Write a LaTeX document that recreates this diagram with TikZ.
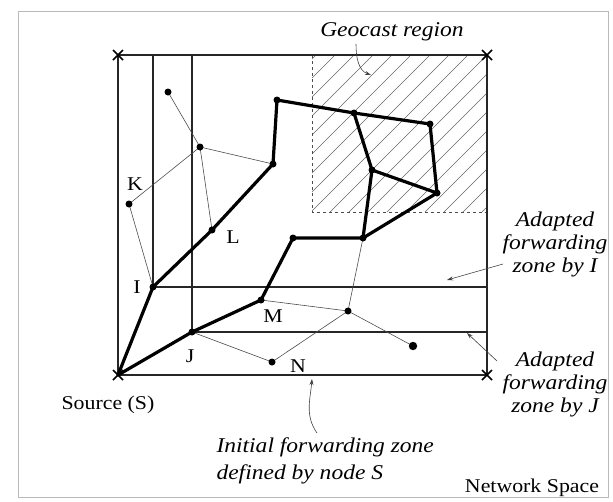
\documentclass[tikz,border=0pt]{standalone}
\usepackage{fontspec}
\setmainfont{Liberation Serif}[FakeStretch=1.12]
\usetikzlibrary{arrows.meta,calc}

\begin{document}
\begin{tikzpicture}[x=1pt, y=-1pt,
  zone/.style={line width=1.4pt, black!85},
  link/.style={line width=0.6pt, black!70},
  route/.style={line width=3.2pt, line join=round, line cap=round},
  hatch/.style={line width=0.5pt, black!60},
  geoedge/.style={line width=0.6pt, black!70, dash pattern=on 3pt off 3pt},
  corner/.style={line width=1.6pt},
  nlbl/.style={font=\fontsize{19.5}{21}\selectfont},
  note/.style={font=\fontsize{21}{23}\selectfont\itshape, align=center},
  pointer/.style={-{Stealth[length=6pt,width=4pt]}, line width=0.6pt, black!75},
]
\useasboundingbox (0,0) rectangle (613,501);

% Network space frame.
\draw[gray!55, line width=1pt] (18,11) rectangle (608,497);

% Corners of the initial zone and the nodes.
\coordinate (S) at (118,375);
\coordinate (TL) at (118,55);
\coordinate (TR) at (487,55);
\coordinate (BR) at (487,375);
\coordinate (I) at (153,287);
\coordinate (J) at (192,332);
\coordinate (K) at (129,204);
\coordinate (L) at (212,230);
\coordinate (M) at (261,300);
\coordinate (N) at (272,362);
\coordinate (n1) at (168,92);
\coordinate (n2) at (200,147);
\coordinate (n3) at (273,164);
\coordinate (n4) at (277,100);
\coordinate (n5) at (354,113);
\coordinate (n6) at (430,124);
\coordinate (n7) at (372,170);
\coordinate (n8) at (437,193);
\coordinate (n9) at (363,238);
\coordinate (n10) at (293,238);
\coordinate (n11) at (348,311);
\coordinate (n12) at (413,346);

% Geocast region.
\coordinate (geoSW) at (312,212);
\begin{scope}
  \clip (geoSW) rectangle (TR);
  \foreach \x in {140,159,...,500}
    \draw[hatch] (\x,212) -- ++(160,-160);
\end{scope}
\draw[geoedge] (TR -| geoSW) -- (geoSW) -- (geoSW -| TR);

% Forwarding zones.
\draw[zone] (S) rectangle (TR);
\draw[zone] (I) rectangle (TR);
\draw[zone] (J) rectangle (TR);
\foreach \c in {S,TL,TR,BR}
  \draw[corner] ($(\c)+(-5,-5)$) -- ($(\c)+(5,5)$)
                ($(\c)+(-5,5)$) -- ($(\c)+(5,-5)$);

% Thin links.
\draw[link] (n1) -- (n2);
\draw[link] (n2) -- (n3);
\draw[link] (n2) -- (L);
\draw[link] (n2) -- (K);
\draw[link] (K) -- (I);
\draw[link] (M) -- (n11);
\draw[link] (n11) -- (n9);
\draw[link] (n11) -- (N);
\draw[link] (n11) -- (n12);
\draw[link] (J) -- (N);

% Forwarding routes.
\draw[route] (S) -- (I) -- (L) -- (n3) -- (n4) -- (n5) -- (n6) -- (n8);
\draw[route] (S) -- (J) -- (M) -- (n10) -- (n9) -- (n8) -- (n7) -- (n5);
\draw[route] (n7) -- (n9);

\foreach \p in {I,J,K,L,M,N,n1,n2,n3,n4,n5,n6,n7,n8,n9,n10,n11}
  \fill (\p) circle (3.5pt);
\fill (n12) circle (4.2pt);

% Node labels.
\node[nlbl] (lK) at (135,184) {K};
\node[nlbl] (lL) at (233,237) {L};
\node[nlbl] (lI) at (137,287) {I};
\node[nlbl] (lJ) at (190,356) {J};
\node[nlbl] (lM) at (273,316) {M};
\node[nlbl] (lN) at (298,366) {N};
\node[nlbl] (src) at (108,405) {Source (S)};
\node[nlbl] (net) at (532,488) {Network Space};

% Annotations.
\node[note] (geo) at (392,32) {Geocast region};
\node[note] (zoneI) at (555,244) {Adapted\\ forwarding\\ zone by I};
\node[note] (zoneJ) at (555,384) {Adapted\\ forwarding\\ zone by J};
\node[note, align=left, anchor=west, font=\fontsize{21}{27}\selectfont\itshape]
  (init) at (213,461) {Initial forwarding zone\\ defined by node S};

\coordinate (geotail) at (356,44);
\coordinate (geotip) at (371,75);
\coordinate (zItail) at (503,264);
\coordinate (zItip) at (447,280);
\coordinate (zJtail) at (497,361);
\coordinate (zJtip) at (467,333);
\coordinate (inittail) at (317,433);
\coordinate (inittip) at (312,379);

\draw[pointer] (geotail) to[out=-90,in=160] (geotip);
\draw[pointer] (zItail) -- (zItip);
\draw[pointer] (zJtail) -- (zJtip);
\draw[pointer] (inittail) to[out=125,in=-95] (inittip);

\end{tikzpicture}
\end{document}
